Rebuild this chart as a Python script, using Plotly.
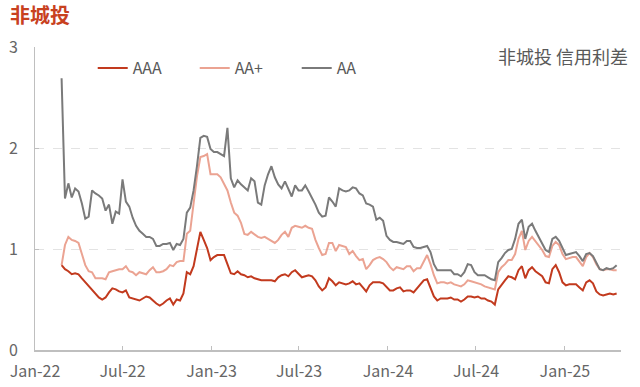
import pandas as pd
import plotly.graph_objects as go

dates = pd.date_range("2022-02-25", periods=165, freq="W-FRI")

aaa = [0.84, 0.80, 0.78, 0.75, 0.76, 0.75, 0.71, 0.67, 0.63, 0.59,
       0.56, 0.52, 0.50, 0.52, 0.57, 0.61, 0.60, 0.58, 0.57, 0.59,
       0.52, 0.51, 0.50, 0.49, 0.51, 0.53, 0.52, 0.49, 0.46, 0.44,
       0.46, 0.49, 0.51, 0.45, 0.50, 0.49, 0.56, 0.77, 0.75, 0.83,
       1.00, 1.17, 1.09, 1.01, 0.89, 0.92, 0.94, 0.94, 0.94, 0.85,
       0.76, 0.75, 0.78, 0.75, 0.74, 0.72, 0.73, 0.71, 0.70, 0.69,
       0.69, 0.69, 0.69, 0.68, 0.72, 0.74, 0.75, 0.73, 0.77, 0.79,
       0.75, 0.72, 0.73, 0.74, 0.73, 0.69, 0.63, 0.59, 0.62, 0.71,
       0.68, 0.64, 0.67, 0.66, 0.65, 0.66, 0.68, 0.65, 0.66, 0.62,
       0.58, 0.64, 0.67, 0.67, 0.67, 0.66, 0.63, 0.59, 0.59, 0.61,
       0.62, 0.58, 0.59, 0.59, 0.57, 0.61, 0.65, 0.69, 0.70, 0.62,
       0.53, 0.49, 0.51, 0.51, 0.51, 0.52, 0.50, 0.50, 0.48, 0.50,
       0.53, 0.53, 0.52, 0.53, 0.51, 0.51, 0.49, 0.48, 0.45, 0.60,
       0.65, 0.69, 0.73, 0.72, 0.70, 0.79, 0.83, 0.71, 0.79, 0.82,
       0.78, 0.75, 0.73, 0.67, 0.66, 0.80, 0.84, 0.77, 0.67, 0.64,
       0.65, 0.65, 0.65, 0.62, 0.59, 0.67, 0.69, 0.66, 0.58, 0.55,
       0.54, 0.55, 0.56, 0.55, 0.56]

aa_plus = [0.84, 1.04, 1.12, 1.09, 1.08, 1.06, 0.95, 0.84, 0.78, 0.77,
           0.71, 0.71, 0.71, 0.70, 0.77, 0.78, 0.79, 0.80, 0.80, 0.83,
           0.78, 0.77, 0.74, 0.77, 0.76, 0.75, 0.79, 0.82, 0.77, 0.77,
           0.78, 0.80, 0.84, 0.83, 0.87, 0.88, 0.88, 1.15, 1.18, 1.45,
           1.72, 1.91, 1.92, 1.94, 1.74, 1.74, 1.74, 1.71, 1.65, 1.58,
           1.46, 1.36, 1.33, 1.26, 1.15, 1.14, 1.17, 1.14, 1.12, 1.11,
           1.12, 1.10, 1.08, 1.06, 1.09, 1.14, 1.17, 1.12, 1.21, 1.23,
           1.22, 1.21, 1.23, 1.21, 1.20, 1.09, 1.01, 0.94, 0.95, 1.06,
           1.06, 0.98, 1.04, 1.03, 1.02, 0.95, 0.98, 0.93, 0.89, 0.90,
           0.80, 0.84, 0.89, 0.91, 0.92, 0.90, 0.87, 0.82, 0.79, 0.82,
           0.81, 0.80, 0.83, 0.83, 0.78, 0.81, 0.81, 0.88, 0.94, 0.85,
           0.74, 0.66, 0.67, 0.67, 0.66, 0.67, 0.65, 0.64, 0.63, 0.65,
           0.69, 0.68, 0.67, 0.66, 0.65, 0.63, 0.62, 0.61, 0.60, 0.77,
           0.82, 0.85, 0.89, 0.89, 0.95, 1.10, 1.18, 0.99, 1.08, 1.12,
           1.08, 1.03, 0.99, 0.93, 0.92, 1.03, 1.07, 1.04, 0.95, 0.90,
           0.91, 0.92, 0.92, 0.88, 0.83, 0.92, 0.96, 0.92, 0.85, 0.80,
           0.79, 0.80, 0.80, 0.79, 0.79]

aa = [2.69, 1.50, 1.65, 1.51, 1.60, 1.57, 1.45, 1.30, 1.32, 1.58,
      1.55, 1.53, 1.50, 1.38, 1.44, 1.25, 1.37, 1.35, 1.69, 1.47,
      1.42, 1.31, 1.23, 1.18, 1.15, 1.12, 1.12, 1.10, 1.03, 1.03,
      1.05, 1.05, 1.06, 0.99, 1.05, 1.04, 1.10, 1.36, 1.41, 1.58,
      1.82, 2.10, 2.12, 2.11, 1.99, 1.96, 1.96, 1.94, 1.92, 2.20,
      1.70, 1.61, 1.68, 1.64, 1.61, 1.58, 1.70, 1.67, 1.46, 1.44,
      1.63, 1.74, 1.82, 1.71, 1.64, 1.60, 1.67, 1.59, 1.52, 1.63,
      1.58, 1.58, 1.63, 1.57, 1.51, 1.44, 1.36, 1.32, 1.33, 1.51,
      1.47, 1.42, 1.60, 1.58, 1.57, 1.58, 1.61, 1.60, 1.55, 1.53,
      1.45, 1.44, 1.42, 1.29, 1.31, 1.28, 1.13, 1.09, 1.07, 1.07,
      1.06, 1.05, 1.08, 1.08, 1.02, 1.01, 1.01, 1.02, 1.03, 0.97,
      0.85, 0.79, 0.79, 0.79, 0.79, 0.79, 0.75, 0.75, 0.73, 0.77,
      0.85, 0.84, 0.77, 0.74, 0.74, 0.74, 0.72, 0.70, 0.69, 0.87,
      0.91, 0.96, 0.99, 1.00, 1.10, 1.25, 1.29, 1.10, 1.22, 1.25,
      1.18, 1.12, 1.06, 0.99, 0.97, 1.10, 1.12, 1.08, 1.01, 0.94,
      0.95, 0.96, 0.97, 0.93, 0.88, 0.95, 0.96, 0.93, 0.86, 0.80,
      0.79, 0.81, 0.80, 0.81, 0.84]

series_names = ["AAA", "AA+", "AA"]
series_values = [aaa, aa_plus, aa]
series_colors = ["#C23A1E", "#EBA392", "#7A7A7A"]

FONT = "Noto Sans CJK SC, Noto Sans, sans-serif"

fig = go.Figure()
for name, vals, col in zip(series_names, series_values, series_colors):
    fig.add_trace(go.Scatter(x=dates, y=vals, name=name, mode="lines",
                             line=dict(color=col, width=2)))

fig.update_layout(
    width=640, height=387,
    margin=dict(l=35, r=19, t=47, b=37),
    paper_bgcolor="white", plot_bgcolor="white",
    font=dict(family=FONT, size=16, color="#595959"),
    title=dict(text="<b>非城投</b>", x=10/640, xanchor="left",
               y=1 - 16/387, yanchor="middle", yref="container",
               font=dict(size=20, color="#C8411F", family=FONT)),
    legend=dict(orientation="h", x=0.0985, xanchor="left", y=0.93, yanchor="middle",
                font=dict(size=16, color="#595959"), bgcolor="rgba(0,0,0,0)",
                entrywidth=57, tracegroupgap=0),
    showlegend=True,
)

fig.add_annotation(text="非城投 信用利差", xref="paper", yref="paper",
                   x=(630 - 35) / 586, y=(350 - 56) / 303, xanchor="right", yanchor="middle",
                   showarrow=False, font=dict(size=18, color="#595959", family=FONT))

fig.update_xaxes(
    range=["2022-01-01", "2025-04-27"],
    tick0="2022-01-01", dtick="M6", tickformat="%b-%y",
    showline=True, linecolor="#BFBFBF", linewidth=1.5,
    ticks="inside", ticklen=4, tickcolor="#BFBFBF",
    showgrid=False, zeroline=False, automargin=False,
    ticklabelstandoff=6,
    tickfont=dict(size=16, color="#666666"),
)
fig.update_yaxes(
    range=[0, 3], dtick=1,
    showline=True, linecolor="#BFBFBF", linewidth=1,
    ticks="inside", ticklen=4, tickcolor="#BFBFBF",
    showgrid=True, gridcolor="#E3E3E3", griddash="dash", gridwidth=1,
    zeroline=False, automargin=False,
    ticklabelstandoff=13,
    tickfont=dict(size=16, color="#666666"),
)

fig.write_html("out.html", config={"displayModeBar": False},
               post_script="document.body.style.margin='0px';")
